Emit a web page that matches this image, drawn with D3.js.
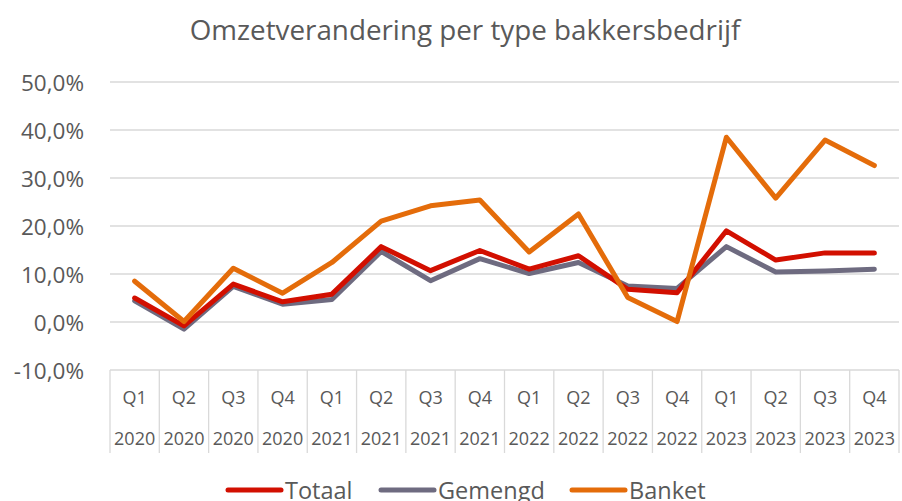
<!DOCTYPE html>
<html>
<head>
<meta charset="utf-8">
<script src="https://cdn.jsdelivr.net/npm/d3@7"></script>
<style>
  body { margin: 0; background: #fff; }
  svg { display: block; font-family: "Open Sans", "Noto Sans", sans-serif; }
</style>
</head>
<body>
<svg id="chart"></svg>
<script>
var quarters = ['Q1', 'Q2', 'Q3', 'Q4', 'Q1', 'Q2', 'Q3', 'Q4', 'Q1', 'Q2', 'Q3', 'Q4', 'Q1', 'Q2', 'Q3', 'Q4'];
var years = ['2020', '2020', '2020', '2020', '2021', '2021', '2021', '2021', '2022', '2022', '2022', '2022', '2023', '2023', '2023', '2023'];

var totaal = [5.0, -0.8, 7.9, 4.2, 5.8, 15.7, 10.7, 14.9, 11.0, 13.8, 6.8, 6.1, 19.0, 12.9, 14.4, 14.4];
var gemengd = [4.4, -1.5, 7.4, 3.7, 4.7, 14.7, 8.6, 13.2, 10.1, 12.4, 7.5, 7.0, 15.7, 10.4, 10.6, 11.0];
var banket = [8.5, 0.1, 11.2, 6.0, 12.4, 21.0, 24.2, 25.4, 14.6, 22.5, 5.1, 0.1, 38.5, 25.8, 37.9, 32.6];

var yTicks = [-10, 0, 10, 20, 30, 40, 50];

var series = [
  { name: 'Totaal', values: totaal, color: '#d20f00' },
  { name: 'Gemengd', values: gemengd, color: '#6e6b80' },
  { name: 'Banket', values: banket, color: '#e46c0a' }
];
// draw order: gray first, red over, orange on top
var drawOrder = [series[1], series[0], series[2]];

var width = 902, height = 501;
var plot = { left: 110, right: 899, top: 82, bottom: 370 };

var svg = d3.select('#chart')
  .attr('width', width)
  .attr('height', height);

var idx = d3.range(quarters.length);
var x = d3.scaleBand().domain(idx).range([plot.left, plot.right]);
var y = d3.scaleLinear().domain([-10, 50]).range([plot.bottom, plot.top]);

// Excel style: comma decimal, plain hyphen for negatives
var fmt = function(v) { return (v < 0 ? '-' : '') + Math.abs(v).toFixed(1).replace('.', ',') + '%'; };

// title
svg.append('text')
  .attr('x', 465)
  .attr('y', 40)
  .attr('text-anchor', 'middle')
  .attr('fill', '#595959')
  .attr('font-size', 27.8)
  .text('Omzetverandering per type bakkersbedrijf');

// gridlines
svg.append('g')
  .selectAll('line')
  .data(yTicks)
  .join('line')
  .attr('x1', plot.left)
  .attr('x2', plot.right)
  .attr('y1', function(d) { return y(d); })
  .attr('y2', function(d) { return y(d); })
  .attr('stroke', '#d9d9d9')
  .attr('stroke-width', 1.3);

// y labels
svg.append('g')
  .selectAll('text')
  .data(yTicks)
  .join('text')
  .attr('x', 84)
  .attr('y', function(d) { return y(d) + 8.5; })
  .attr('text-anchor', 'end')
  .attr('fill', '#595959')
  .attr('font-size', 22.5)
  .text(fmt);

// category boxes
var catBottom = 453;
svg.append('g')
  .selectAll('line')
  .data(idx.concat([quarters.length]))
  .join('line')
  .attr('x1', function(d) { return d < quarters.length ? x(d) : plot.right; })
  .attr('x2', function(d) { return d < quarters.length ? x(d) : plot.right; })
  .attr('y1', plot.bottom)
  .attr('y2', catBottom)
  .attr('stroke', '#d9d9d9')
  .attr('stroke-width', 1.3);

var cat = svg.append('g').attr('fill', '#595959').attr('font-size', 18).attr('text-anchor', 'middle');
cat.selectAll('text.q')
  .data(idx)
  .join('text')
  .attr('class', 'q')
  .attr('x', function(d) { return x(d) + x.bandwidth() / 2; })
  .attr('y', 404)
  .text(function(d) { return quarters[d]; });
cat.selectAll('text.yr')
  .data(idx)
  .join('text')
  .attr('class', 'yr')
  .attr('x', function(d) { return x(d) + x.bandwidth() / 2; })
  .attr('y', 445)
  .text(function(d) { return years[d]; });

// lines
var line = d3.line()
  .x(function(d, i) { return x(i) + x.bandwidth() / 2; })
  .y(function(d) { return y(d); });

svg.append('g')
  .selectAll('path')
  .data(drawOrder)
  .join('path')
  .attr('d', function(s) { return line(s.values); })
  .attr('fill', 'none')
  .attr('stroke', function(s) { return s.color; })
  .attr('stroke-width', 5)
  .attr('stroke-linejoin', 'round')
  .attr('stroke-linecap', 'round');

// legend
var legendX = [228, 381, 572];
var legend = svg.append('g')
  .selectAll('g')
  .data(series)
  .join('g')
  .attr('transform', function(d, i) { return 'translate(' + legendX[i] + ',490)'; });
legend.append('line')
  .attr('x1', 0)
  .attr('x2', 53)
  .attr('stroke', function(d) { return d.color; })
  .attr('stroke-width', 5)
  .attr('stroke-linecap', 'round');
legend.append('text')
  .attr('x', 57)
  .attr('y', 8.5)
  .attr('fill', '#595959')
  .attr('font-size', 23.5)
  .text(function(d) { return d.name; });
</script>
</body>
</html>
